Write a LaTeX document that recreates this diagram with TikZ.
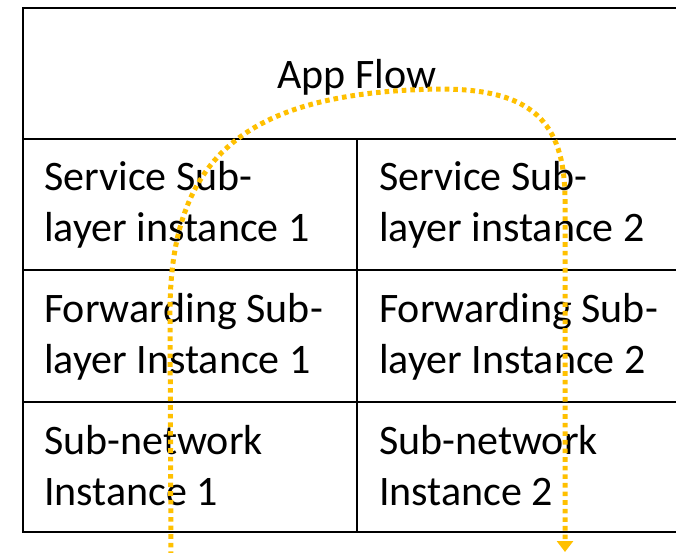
\documentclass[tikz,border=0pt]{standalone}
\usepackage{fontspec}
\setmainfont{Carlito}
\usetikzlibrary{arrows.meta}
\definecolor{flowgold}{HTML}{FFC000}
\newcommand{\cellfont}{\fontsize{42}{51.5}\selectfont}
\tikzset{
  grid/.style={draw=black, line width=2pt},
  celltext/.style={anchor=base west, inner sep=0pt, text width=300pt, align=left,
    font=\cellfont, execute at begin node={\spaceskip=9.5pt\relax}},
  flowpath/.style={draw=flowgold, line width=5pt, dash pattern=on 4.6pt off 4pt,
    -{Triangle[width=16pt,length=11pt]}}
}
\begin{document}
\begin{tikzpicture}[x=1pt,y=-1pt]
  \useasboundingbox (0,0) rectangle (676,552);
  % table frame (continues past the right edge)
  \draw[grid] (680,8) -- (23,8) -- (23,532) -- (680,532);
  \draw[grid] (23,139) -- (680,139);
  \draw[grid] (23,270) -- (680,270);
  \draw[grid] (23,402) -- (680,402);
  \draw[grid] (357,139) -- (357,532);
  % header
  \node[anchor=base, inner sep=0pt, font=\cellfont] (app) at (357,88) {App Flow};
  % left column
  \node[celltext] (svc1) at (44,190) {Service Sub-\\layer instance 1};
  \node[celltext] (fwd1) at (44,322) {Forwarding Sub-\\layer Instance 1};
  \node[celltext] (net1) at (44,454) {Sub-network\\Instance 1};
  % right column
  \node[celltext] (svc2) at (379,190) {Service Sub-\\layer instance 2};
  \node[celltext] (fwd2) at (379,322) {Forwarding Sub-\\layer Instance 2};
  \node[celltext] (net2) at (379,454) {Sub-network\\Instance 2};
  % flow through the stack
  \coordinate (src) at (171,556);
  \coordinate (up) at (170,320);
  \coordinate (top) at (440,89);
  \coordinate (down) at (565,200);
  \coordinate (dst) at (565,552);
  \draw[flowpath] (src) -- (up) .. controls (168,160) and (240,92) .. (top)
    .. controls (530,89) and (565,120) .. (down) -- (dst);
\end{tikzpicture}
\end{document}
